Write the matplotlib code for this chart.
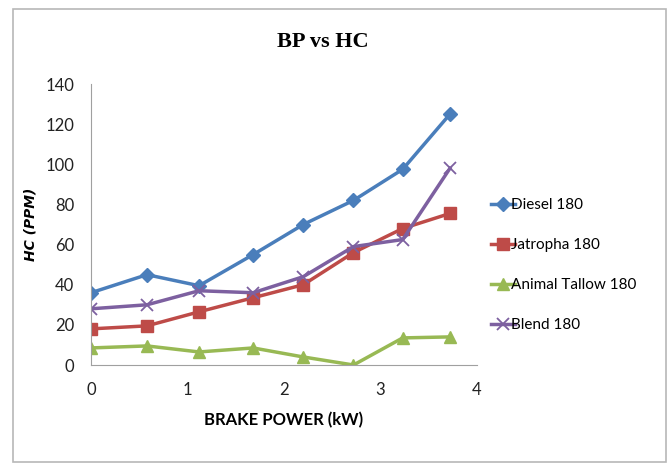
import matplotlib.pyplot as plt
from matplotlib.patches import Rectangle

# brake power (kW) and HC emission (ppm)
brake_power = [0, 0.58, 1.12, 1.68, 2.2, 2.72, 3.23, 3.72]
diesel = [36, 45, 39.5, 55, 70, 82, 97.5, 125]
jatropha = [18, 19.5, 26.5, 33.5, 40, 56, 68, 75.5]
tallow = [8.5, 9.5, 6.5, 8.5, 4, 0, 13.5, 14]
blend = [28, 30, 37, 36, 44, 59, 62.5, 98]

series_names = ["Diesel 180", "Jatropha 180", "Animal Tallow 180", "Blend 180"]
x_ticks = [0, 1, 2, 3, 4]
y_ticks = [0, 20, 40, 60, 80, 100, 120, 140]

fig = plt.figure(figsize=(6.69, 4.65), dpi=100)
ax = fig.add_axes([91 / 669, 1 - 365 / 465, (477 - 91) / 669, (365 - 84) / 465])

# outer chart frame
fig.patches.append(Rectangle((13 / 669, 3 / 465), 653 / 669, 453 / 465, transform=fig.transFigure,
                             fill=False, edgecolor="#b8b8b8", linewidth=1.2))

ax.plot(brake_power, diesel, color="#4a7ebb", marker="D", markersize=7, linewidth=2.5, label=series_names[0])
ax.plot(brake_power, jatropha, color="#be4b48", marker="s", markersize=9, linewidth=2.5, label=series_names[1])
ax.plot(brake_power, tallow, color="#98b954", marker="^", markersize=8, linewidth=2.5, label=series_names[2])
ax.plot(brake_power, blend, color="#7d60a0", marker="x", markersize=9, markeredgewidth=1.3, linewidth=2.5,
        label=series_names[3])

ax.set_xlim(0, 4)
ax.set_ylim(0, 140)
ax.set_xticks(x_ticks)
ax.set_yticks(y_ticks)
for s in ["top", "right"]:
    ax.spines[s].set_visible(False)
for s in ["left", "bottom"]:
    ax.spines[s].set_color("#a0a0a0")
ax.tick_params(length=0, labelsize=12, pad=12, colors="#222222")
for lab in ax.get_xticklabels() + ax.get_yticklabels():
    lab.set_family("Lato")

ax.set_ylabel("HC (PPM)", fontsize=10, fontweight="bold", fontstyle="italic", family="DejaVu Sans", labelpad=6)
ax.set_xlabel("BRAKE POWER (kW)", fontsize=12, fontweight="bold", family="Lato", labelpad=10)
fig.text(323 / 669, 1 - 42 / 465, "BP vs HC", ha="center", va="center", fontsize=16, fontweight="bold",
         family="Liberation Serif")

leg = ax.legend(loc="center left", bbox_to_anchor=(1.0, 0.355), frameon=False,
                labelspacing=1.7, handlelength=1.6, handletextpad=-0.3,
                prop={"family": "Lato", "size": 11})

plt.savefig("out.png", dpi=100)
plt.close()
